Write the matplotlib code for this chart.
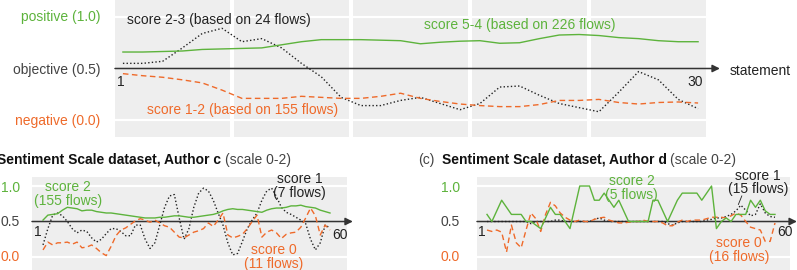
import matplotlib
matplotlib.use('Agg')
import matplotlib.pyplot as plt
import numpy as np

plt.rcParams['font.family'] = ['Liberation Sans', 'DejaVu Sans']

W, H = 797, 270
GREEN = '#5db33c'
ORANGE = '#ee6a2a'
BLACK = '#222222'
GRAY_BG = '#eeeeee'
AXIS_TXT = '#444444'

# ---- top panel: scores on 1-5 scale, 30 statements
top_x = np.arange(1, 31)
top_pos = [0.66, 0.66, 0.665, 0.67, 0.685, 0.69, 0.695, 0.70, 0.73, 0.76,
           0.78, 0.78, 0.78, 0.775, 0.77, 0.74, 0.755, 0.765, 0.77, 0.745,
           0.75, 0.79, 0.825, 0.83, 0.82, 0.80, 0.79, 0.77, 0.76, 0.76]
top_mid = [0.55, 0.55, 0.57, 0.70, 0.84, 0.89, 0.76, 0.79, 0.70, 0.55,
           0.42, 0.22, 0.14, 0.14, 0.19, 0.22, 0.16, 0.10, 0.16, 0.32,
           0.33, 0.24, 0.16, 0.12, 0.08, 0.27, 0.47, 0.39, 0.20, 0.11]
top_neg = [0.45, 0.43, 0.415, 0.39, 0.36, 0.29, 0.21, 0.21, 0.21, 0.23,
           0.22, 0.21, 0.21, 0.23, 0.26, 0.21, 0.18, 0.155, 0.14, 0.13,
           0.13, 0.15, 0.19, 0.19, 0.20, 0.17, 0.155, 0.17, 0.175, 0.165]

# ---- Author c (scale 0-2), 60 statements
c_x = np.arange(1, 61)
c_pos = [0.52, 0.59, 0.60, 0.61, 0.66, 0.70, 0.69, 0.68, 0.65, 0.66,
         0.66, 0.64, 0.63, 0.62, 0.62, 0.61, 0.60, 0.59, 0.58, 0.57,
         0.56, 0.55, 0.55, 0.55, 0.56, 0.56, 0.57, 0.58, 0.58, 0.57,
         0.56, 0.56, 0.57, 0.58, 0.59, 0.60, 0.62, 0.65, 0.67, 0.68,
         0.67, 0.67, 0.66, 0.65, 0.64, 0.63, 0.66, 0.68, 0.69, 0.69,
         0.70, 0.72, 0.72, 0.73, 0.71, 0.70, 0.69, 0.66, 0.64, 0.62]
c_mid = [0.17, 0.40, 0.59, 0.62, 0.58, 0.50, 0.40, 0.34, 0.38, 0.36,
         0.27, 0.21, 0.25, 0.33, 0.40, 0.40, 0.36, 0.30, 0.30, 0.45,
         0.45, 0.25, 0.12, 0.20, 0.45, 0.70, 0.86, 0.88, 0.55, 0.25,
         0.40, 0.70, 0.90, 0.97, 0.93, 0.80, 0.62, 0.45, 0.20, 0.03,
         0.05, 0.22, 0.40, 0.52, 0.62, 0.80, 0.93, 0.97, 0.85, 0.70,
         0.63, 0.60, 0.56, 0.52, 0.47, 0.25, 0.10, 0.20, 0.45, 0.41]
c_neg = [0.10, 0.21, 0.17, 0.20, 0.20, 0.21, 0.18, 0.21, 0.13, 0.14,
         0.17, 0.12, 0.06, 0.02, 0.15, 0.30, 0.38, 0.41, 0.46, 0.51,
         0.54, 0.52, 0.49, 0.52, 0.48, 0.44, 0.42, 0.35, 0.28, 0.27,
         0.31, 0.35, 0.37, 0.40, 0.48, 0.43, 0.52, 0.62, 0.31, 0.27,
         0.29, 0.32, 0.40, 0.50, 0.59, 0.28, 0.35, 0.38, 0.34, 0.26,
         0.32, 0.34, 0.35, 0.42, 0.55, 0.69, 0.58, 0.31, 0.45, 0.38]

# ---- Author d (scale 0-2), 60 statements
d_x = np.arange(1, 61)
d_pos = [0.6, 0.5, 0.65, 0.8, 0.7, 0.6, 0.6, 0.6, 0.5, 0.5,
         0.45, 0.4, 0.55, 0.7, 0.6, 0.6, 0.5, 0.4, 0.7, 1.0,
         1.0, 1.0, 0.8, 0.8, 0.9, 0.8, 0.7, 0.8, 0.65, 0.5,
         0.5, 0.5, 0.5, 0.5, 0.8, 0.8, 0.65, 0.5, 0.65, 0.8,
         0.9, 0.9, 0.9, 0.9, 0.8, 0.9, 1.0, 0.4, 0.5, 0.55,
         0.5, 0.6, 0.6, 0.6, 0.8, 0.7, 0.8, 0.65, 0.6, 0.6]
d_mid = [0.50, 0.50, 0.50, 0.50, 0.50, 0.50, 0.50, 0.50, 0.50, 0.47,
         0.50, 0.50, 0.50, 0.50, 0.52, 0.52, 0.50, 0.50, 0.50, 0.50,
         0.50, 0.50, 0.53, 0.55, 0.52, 0.50, 0.50, 0.50, 0.50, 0.50,
         0.50, 0.50, 0.50, 0.50, 0.50, 0.50, 0.50, 0.47, 0.45, 0.48,
         0.50, 0.50, 0.50, 0.50, 0.50, 0.52, 0.53, 0.55, 0.55, 0.57,
         0.60, 0.65, 0.73, 0.66, 0.58, 0.60, 0.75, 0.62, 0.57, 0.56]
d_neg = [0.38, 0.36, 0.38, 0.35, 0.07, 0.45, 0.20, 0.13, 0.38, 0.62,
         0.54, 0.36, 0.60, 0.77, 0.72, 0.62, 0.56, 0.52, 0.50, 0.52,
         0.50, 0.50, 0.53, 0.55, 0.56, 0.52, 0.50, 0.48, 0.48, 0.49,
         0.50, 0.50, 0.52, 0.50, 0.50, 0.50, 0.48, 0.44, 0.44, 0.49,
         0.52, 0.50, 0.52, 0.52, 0.52, 0.54, 0.56, 0.56, 0.56, 0.55,
         0.58, 0.62, 0.59, 0.50, 0.42, 0.40, 0.38, 0.22, 0.22, 0.48]

fig = plt.figure(figsize=(W / 100, H / 100), dpi=100)


def px_axes(x0, y0, x1, y1):
    ax = fig.add_axes([x0 / W, 1 - y1 / H, (x1 - x0) / W, (y1 - y0) / H])
    for s in ax.spines.values():
        s.set_visible(False)
    ax.set_xticks([])
    ax.set_yticks([])
    return ax


def fig_text(x, y, s, **kw):
    fig.text(x / W, 1 - y / H, s, **kw)


def arrow(ax, x0, x1):
    ax.annotate('', xy=(x1, 0.5), xytext=(x0, 0.5), annotation_clip=False,
                arrowprops=dict(arrowstyle='-|>', color='#333333', lw=1.1,
                                mutation_scale=11, shrinkA=0, shrinkB=0))


def draw_series(ax, x, pos, mid, neg, lw=1.0):
    ax.plot(x, mid, color=BLACK, lw=1.0, ls=(0, (1, 1.6)), zorder=3)
    ax.plot(x, neg, color=ORANGE, lw=lw, ls=(0, (4, 2.5)), zorder=4)
    ax.plot(x, pos, color=GREEN, lw=lw, zorder=5)


def title(x_lab, x_bold, x_rest, y, lab, bold):
    fig_text(x_lab, y, lab, fontsize=10, color=AXIS_TXT, va='center')
    fig_text(x_bold, y, bold, fontsize=10, color='#111111', va='center',
             fontweight='bold')
    fig_text(x_rest, y, '(scale 0-2)', fontsize=10, color=AXIS_TXT,
             va='center')


# ================= top panel
ax = px_axes(113, 0, 708, 137)
ax.set_facecolor('none')
ax.set_xlim(0.5, 30.5)
ax.set_ylim(-0.165, 1.165)
for k in range(5):
    ax.axvspan(k * 6 + 0.6, k * 6 + 6.38, color=GRAY_BG, lw=0, zorder=0)
for yv in (0.0, 1.0):
    ax.axhline(yv, color='white', lw=1.6, zorder=1)
arrow(ax, 0.6, 31.1)
draw_series(ax, top_x, top_pos, top_mid, top_neg)
ax.text(0.7, 0.37, '1', fontsize=10, ha='left', va='center', color=BLACK)
ax.text(29.85, 0.37, '30', fontsize=10, ha='center', va='center', color=BLACK)
ax.text(1.2, 0.97, 'score 2-3 (based on 24 flows)', fontsize=10,
        color=BLACK, va='center')
ax.text(16.2, 0.92, 'score 5-4 (based on 226 flows)', fontsize=10,
        color=GREEN, va='center')
ax.text(2.2, 0.10, 'score 1-2 (based on 155 flows)', fontsize=10,
        color=ORANGE, va='center')

fig_text(100, 17, 'positive (1.0)', fontsize=10, color=GREEN,
         ha='right', va='center')
fig_text(100, 70, 'objective (0.5)', fontsize=10, color=AXIS_TXT,
         ha='right', va='center')
fig_text(100, 121, 'negative (0.0)', fontsize=10, color=ORANGE,
         ha='right', va='center')
fig_text(730, 71, 'statement', fontsize=10, color=BLACK, va='center')

# ================= Author c
ax = px_axes(32, 177, 347, 270)
ax.set_facecolor(GRAY_BG)
ax.set_xlim(1 - 11 / 4.864, 60 + 17 / 4.864)
ax.set_ylim(-0.183, 1.127)
for yv in (0.0, 1.0):
    ax.axhline(yv, color='white', lw=1.6, zorder=1)
arrow(ax, 1 - 11 / 4.864, 64.7)
draw_series(ax, c_x, c_pos, c_mid, c_neg)
ax.text(0.0, 0.35, '1', fontsize=10, ha='center', va='center', color=BLACK)
ax.text(62.0, 0.31, '60', fontsize=10, ha='center', va='center', color=BLACK)
ax.text(6.2, 0.89, 'score 2\n(155 flows)', fontsize=10, color=GREEN,
        ha='center', va='center', linespacing=0.95)
ax.text(53.8, 1.0, 'score 1\n(7 flows)', fontsize=10, color=BLACK,
        ha='center', va='center', linespacing=0.95)
ax.text(48.4, 0.0, 'score 0\n(11 flows)', fontsize=10, color=ORANGE,
        ha='center', va='center', linespacing=0.95)

title(-27, -3, 225, 160, '(b)', 'Sentiment Scale dataset, Author c')
fig_text(20, 188, '1.0', fontsize=10, color=GREEN, ha='right', va='center')
fig_text(20, 222, '0.5', fontsize=10, color=AXIS_TXT, ha='right', va='center')
fig_text(20, 257, '0.0', fontsize=10, color=ORANGE, ha='right', va='center')

# ================= Author d
ax = px_axes(477, 177, 790, 270)
ax.set_facecolor(GRAY_BG)
ax.set_xlim(1 - 10 / 4.88, 60 + 15 / 4.88)
ax.set_ylim(-0.183, 1.127)
for yv in (0.0, 1.0):
    ax.axhline(yv, color='white', lw=1.6, zorder=1)
arrow(ax, 1 - 10 / 4.88, 64.5)
draw_series(ax, d_x, d_pos, d_mid, d_neg)
ax.text(0.0, 0.35, '1', fontsize=10, ha='center', va='center', color=BLACK)
ax.text(62.0, 0.35, '60', fontsize=10, ha='center', va='center', color=BLACK)
ax.text(30.6, 0.97, 'score 2\n(5 flows)', fontsize=10, color=GREEN,
        ha='center', va='center', linespacing=0.95)
ax.text(56.5, 1.05, 'score 1\n(15 flows)', fontsize=10, color=BLACK,
        ha='center', va='center', linespacing=0.95)
ax.text(52.7, 0.10, 'score 0\n(16 flows)', fontsize=10, color=ORANGE,
        ha='center', va='center', linespacing=0.95)
ax.plot([53.2, 52.5], [0.86, 0.74], color=BLACK, lw=0.6)

title(418, 442, 670, 160, '(c)', 'Sentiment Scale dataset, Author d')
fig_text(460, 188, '1.0', fontsize=10, color=GREEN, ha='right', va='center')
fig_text(460, 222, '0.5', fontsize=10, color=AXIS_TXT, ha='right', va='center')
fig_text(460, 257, '0.0', fontsize=10, color=ORANGE, ha='right', va='center')

fig.savefig('out.png', dpi=100)
